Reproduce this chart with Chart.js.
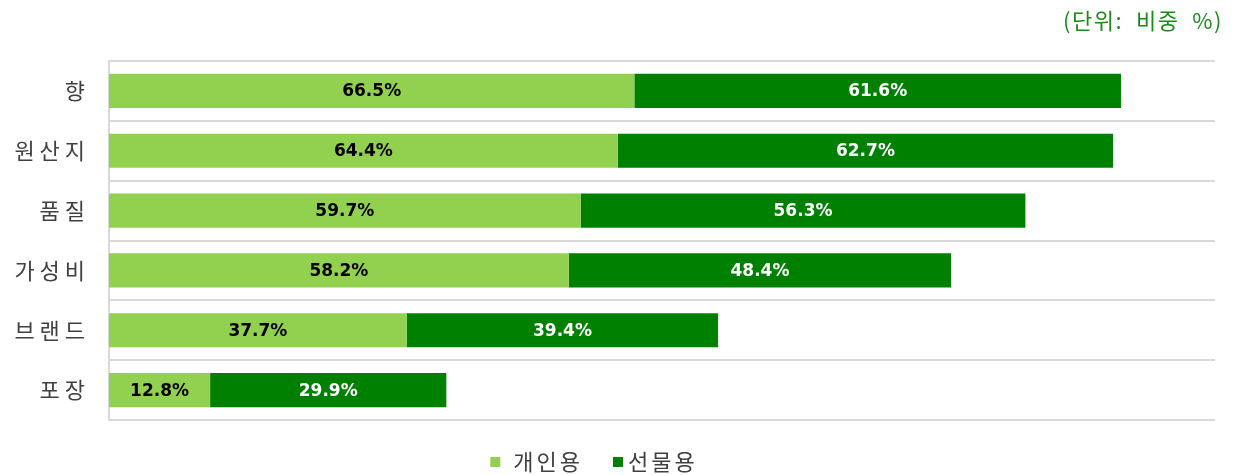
<!DOCTYPE html>
<html><head><meta charset="utf-8">
<script src="https://cdn.jsdelivr.net/npm/chart.js@4/dist/chart.umd.min.js"></script>
<style>html,body{margin:0;padding:0;background:#fff}#wrap{width:1235px;height:475px}</style>
</head><body><div id="wrap"><canvas id="c" width="1235" height="475"></canvas></div>
<script>
const categories = ['향', '원산지', '품질', '가성비', '브랜드', '포장'];
const personal = [66.5, 64.4, 59.7, 58.2, 37.7, 12.8];
const gift = [61.6, 62.7, 56.3, 48.4, 39.4, 29.9];
const seriesNames = ['개인용', '선물용'];
const seriesColors = ['#92d050', '#008000'];
const unitText = '(단위:  비중  %)';

const labelPlugin = {
  id: 'barLabels',
  afterDatasetsDraw(chart) {
    const ctx = chart.ctx;
    ctx.save();
    ctx.font = 'bold 17px "DejaVu Sans"';
    ctx.textAlign = 'center';
    ctx.textBaseline = 'middle';
    chart.data.datasets.forEach((ds, di) => {
      const meta = chart.getDatasetMeta(di);
      meta.data.forEach((bar, i) => {
        const cx = (bar.x + bar.base) / 2;
        ctx.fillStyle = di === 0 ? '#000000' : '#ffffff';
        ctx.fillText(ds.data[i].toFixed(1) + '%', cx, bar.y + 1);
      });
    });
    ctx.restore();
  }
};
const extrasPlugin = {
  id: 'extras',
  afterDraw(chart) {
    const ctx = chart.ctx;
    ctx.save();
    // unit title
    ctx.font = '22px "Noto Sans CJK KR"';
    ctx.letterSpacing = '1.5px';
    ctx.fillStyle = '#1a8c1a';
    ctx.textAlign = 'right';
    ctx.textBaseline = 'middle';
    ctx.fillText(unitText, 1223, 21);
    // legend
    ctx.font = '22px "Noto Sans CJK KR"';
    ctx.letterSpacing = '3px';
    ctx.textAlign = 'left';
    const box = 10, gaps = [13, 5], gapItem = 30;
    const widths = seriesNames.map(n => ctx.measureText(n).width);
    const total = widths.reduce((a, w, i) => a + box + gaps[i] + w, 0) + gapItem;
    let x = 594 - total / 2;
    const y = 462;
    seriesNames.forEach((n, i) => {
      ctx.fillStyle = seriesColors[i];
      ctx.fillRect(x, y - box / 2, box, box);
      ctx.fillStyle = '#404040';
      ctx.fillText(n, x + box + gaps[i], y);
      x += box + gaps[i] + widths[i] + gapItem;
    });
    ctx.restore();
  }
};

new Chart(document.getElementById('c'), {
  type: 'bar',
  data: {
    labels: categories,
    datasets: [
      { label: seriesNames[0], data: personal, backgroundColor: seriesColors[0], barPercentage: 0.57, categoryPercentage: 1 },
      { label: seriesNames[1], data: gift, backgroundColor: seriesColors[1], barPercentage: 0.57, categoryPercentage: 1 }
    ]
  },
  options: {
    indexAxis: 'y',
    responsive: false,
    animation: false,
    layout: { padding: { top: 61, right: 20, left: 0, bottom: 55 } },
    plugins: {
      legend: { display: false },
      tooltip: { enabled: false },
      title: { display: false }
    },
    scales: {
      x: { stacked: true, min: 0, max: 140, display: false },
      y: {
        stacked: true,
        afterFit(s) { s.width = 109; },
        grid: { color: '#d9d9d9', lineWidth: 2, drawTicks: false, offset: true },
        border: { display: true, color: '#d9d9d9', width: 2 },
        ticks: {
          padding: 24,
          color: '#404040',
          font: { size: 22, family: '"Noto Sans CJK KR"' },
          callback(v) { return categories[v].split('').join(' '); }
        }
      }
    }
  },
  plugins: [labelPlugin, extrasPlugin]
});
</script></body></html>
